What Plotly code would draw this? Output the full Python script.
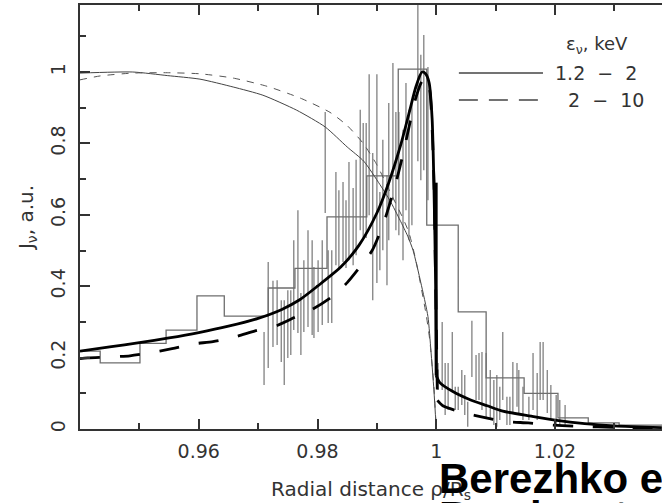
import plotly.graph_objects as go

# histogram of the data (bin edges, bin values)
hist_edges = [0.9400, 0.9434, 0.9501, 0.9545, 0.9597, 0.9643, 0.9717, 0.9762, 0.9816,
              0.9883, 0.9936, 0.9984, 1.0037, 1.0084, 1.0148, 1.0205, 1.0256, 1.0308, 1.0400]
hist_vals = [0.218, 0.185, 0.240, 0.277, 0.373, 0.316, 0.395, 0.450, 0.594,
             0.709, 1.008, 0.571, 0.328, 0.143, 0.100, 0.031, 0.017, 0.011]

# error bars of individual points: position, lower end, upper end
err_x = [0.9710, 0.9717, 0.9725, 0.9732, 0.9739, 0.9744, 0.9750, 0.9755, 0.9760, 0.9767,
         0.9772, 0.9777, 0.9784, 0.9791, 0.9794, 0.9801, 0.9808, 0.9813, 0.9818, 0.9824,
         0.9831, 0.9836, 0.9843, 0.9848, 0.9853, 0.9860, 0.9865, 0.9872, 0.9877, 0.9882,
         0.9887, 0.9893, 0.9900, 0.9905, 0.9910, 0.9917, 0.9920, 0.9927, 0.9932, 0.9937,
         0.9944, 0.9949, 0.9954, 0.9959, 0.9969, 0.9974, 0.9979, 0.9986,
         1.0003, 1.0010, 1.0015, 1.0020, 1.0027, 1.0032, 1.0037, 1.0043, 1.0048, 1.0053,
         1.0060, 1.0067, 1.0072, 1.0077, 1.0084, 1.0091, 1.0097, 1.0102, 1.0107, 1.0112,
         1.0119, 1.0124, 1.0129, 1.0136, 1.0139, 1.0146, 1.0156, 1.0163, 1.0170, 1.0175,
         1.0180, 1.0187, 1.0193, 1.0202, 1.0208, 1.0217]
err_lo = [0.123, 0.171, 0.230, 0.235, 0.188, 0.123, 0.199, 0.207, 0.277, 0.269,
          0.207, 0.272, 0.286, 0.263, 0.255, 0.272, 0.291, 0.605, 0.297, 0.297,
          0.459, 0.451, 0.468, 0.451, 0.473, 0.459, 0.487, 0.557, 0.529, 0.535,
          0.599, 0.361, 0.409, 0.445, 0.501, 0.403, 0.529, 0.641, 0.557, 0.543,
          0.473, 0.613, 0.529, 0.571, 0.750, 0.697, 0.725, 0.641,
          0.109, 0.109, 0.039, 0.053, 0.104, 0.053, 0.053, 0.067, 0.039, 0.006,
          0.146, 0.081, 0.081, 0.053, 0.031, 0.025, 0.011, 0.006, 0.025, 0.081,
          0.011, 0.011, 0.045, 0.062, 0.039, 0.025, 0.025, 0.053, 0.025, 0.081,
          0.081, 0.045, 0.025, 0.011, 0.011, 0.006]
err_hi = [0.272, 0.468, 0.415, 0.417, 0.361, 0.361, 0.389, 0.389, 0.529, 0.613,
          0.381, 0.473, 0.557, 0.529, 0.454, 0.473, 0.529, 0.888, 0.501, 0.501,
          0.720, 0.669, 0.692, 0.641, 0.748, 0.675, 0.754, 0.894, 0.857, 0.857,
          0.994, 0.773, 0.994, 0.664, 0.810, 0.711, 0.913, 1.025, 0.888, 0.888,
          0.838, 0.969, 0.894, 0.922, 1.250, 1.048, 1.104, 1.014,
          0.185, 0.300, 0.185, 0.185, 0.272, 0.118, 0.118, 0.165, 0.151, 0.076,
          0.303, 0.207, 0.213, 0.216, 0.213, 0.165, 0.137, 0.151, 0.118, 0.272,
          0.090, 0.090, 0.188, 0.185, 0.165, 0.118, 0.090, 0.213, 0.157, 0.244,
          0.244, 0.165, 0.123, 0.095, 0.081, 0.067]

# model profile, 1.2-2 keV (thick solid): rise, then drop at the shock
soft_x = [0.9400, 0.9450, 0.9500, 0.9550, 0.9600, 0.9650, 0.9700, 0.9740, 0.9770, 0.9800,
          0.9840, 0.9870, 0.9900, 0.9920, 0.9940, 0.9955, 0.9966, 0.9976, 0.9982, 0.9988,
          0.9993, 0.9996, 0.9999, 1.0000]
soft_y = [0.218, 0.230, 0.242, 0.255, 0.270, 0.288, 0.310, 0.335, 0.362, 0.400,
          0.455, 0.515, 0.605, 0.690, 0.795, 0.890, 0.960, 1.000, 0.995, 0.970,
          0.870, 0.690, 0.400, 0.150]
soft_out_x = [1.0000, 1.0006, 1.0028, 1.0057, 1.0086, 1.0112, 1.0160, 1.0200, 1.0250, 1.0300, 1.0380]
soft_out_y = [0.150, 0.130, 0.105, 0.082, 0.065, 0.050, 0.036, 0.025, 0.015, 0.009, 0.004]

# model profile, 2-10 keV (thick dashed)
hard_x = [0.9400, 0.9413, 0.9484, 0.9513, 0.9555, 0.9590, 0.9624, 0.9661, 0.9695, 0.9732,
          0.9762, 0.9792, 0.9824, 0.9850, 0.9872, 0.9892, 0.9912, 0.9932, 0.9944, 0.9956,
          0.9966, 0.9976, 0.9983, 0.9989, 0.9996, 0.9999, 1.0002]
hard_y = [0.197, 0.199, 0.205, 0.212, 0.225, 0.238, 0.245, 0.258, 0.275, 0.290,
          0.313, 0.336, 0.370, 0.410, 0.455, 0.500, 0.580, 0.690, 0.770, 0.860,
          0.930, 0.975, 0.985, 0.950, 0.700, 0.400, 0.080]
hard_out_x = [1.0002, 1.0011, 1.0047, 1.0082, 1.0117, 1.0155, 1.0188, 1.0234, 1.0309, 1.0380]
hard_out_y = [0.080, 0.065, 0.045, 0.032, 0.021, 0.017, 0.012, 0.008, 0.004, 0.002]

# thin curves (the other pair of profiles)
thin_x = [0.9400, 0.9489, 0.9547, 0.9602, 0.9658, 0.9708, 0.9765, 0.9813, 0.9850, 0.9878,
          0.9905, 0.9922, 0.9939, 0.9952, 0.9961, 0.9974, 0.9986, 0.9991, 0.9996, 1.0000]
thin_y = [0.997, 1.000, 0.990, 0.980, 0.958, 0.935, 0.893, 0.846, 0.790, 0.750,
          0.685, 0.640, 0.585, 0.540, 0.500, 0.410, 0.315, 0.220, 0.110, 0.000]
thind_x = [0.9400, 0.9434, 0.9489, 0.9547, 0.9602, 0.9658, 0.9715, 0.9771, 0.9821, 0.9850,
           0.9877, 0.9900, 0.9922, 0.9944, 0.9954, 0.9966, 0.9983, 0.9989, 0.9996, 1.0000]
thind_y = [0.978, 0.989, 0.997, 0.998, 0.995, 0.983, 0.960, 0.927, 0.887, 0.850,
           0.800, 0.740, 0.665, 0.590, 0.550, 0.470, 0.320, 0.250, 0.120, 0.000]

AX = "#333333"
FONT = "DejaVu Sans"

fig = go.Figure()

# error bars as separate vertical segments
ex, ey = [], []
for x, lo, hi in zip(err_x, err_lo, err_hi):
    ex += [x, x, None]
    ey += [lo, hi, None]
fig.add_trace(go.Scatter(x=ex, y=ey, mode="lines", line=dict(color="#8a8a8a", width=1.4),
                         hoverinfo="skip", showlegend=False))

fig.add_trace(go.Scatter(x=hist_edges, y=hist_vals + [hist_vals[-1]], mode="lines",
                         line=dict(color="#6e6e6e", width=1.3, shape="hv"), showlegend=False))

fig.add_trace(go.Scatter(x=thin_x, y=thin_y, mode="lines",
                         line=dict(color="#444444", width=1, shape="spline", smoothing=0.6),
                         showlegend=False))
fig.add_trace(go.Scatter(x=thind_x, y=thind_y, mode="lines",
                         line=dict(color="#555555", width=1, dash="7px,7px", shape="spline",
                                   smoothing=0.6), showlegend=False))

for xs, ys in [(hard_x, hard_y), (hard_out_x, hard_out_y)]:
    fig.add_trace(go.Scatter(x=xs, y=ys, mode="lines",
                             line=dict(color="black", width=2.8, dash="20px,20px",
                                       shape="spline", smoothing=0.7), showlegend=False))
for xs, ys in [(soft_x, soft_y), (soft_out_x, soft_out_y)]:
    fig.add_trace(go.Scatter(x=xs, y=ys, mode="lines",
                             line=dict(color="black", width=2.8, shape="spline", smoothing=0.7),
                             showlegend=False))
# vertical drop of the 1.2-2 keV profile at the shock
fig.add_trace(go.Scatter(x=[soft_x[-1], soft_out_x[0]], y=[soft_y[-3], soft_out_y[0]], mode="lines",
                         line=dict(color="black", width=2.8), showlegend=False))

# legend drawn by hand
fig.add_shape(type="line", xref="paper", yref="paper", x0=0.651, x1=0.7955, y0=0.8396, y1=0.8396,
              line=dict(color="#444444", width=1.3))
fig.add_shape(type="line", xref="paper", yref="paper", x0=0.651, x1=0.7955, y0=0.776, y1=0.776,
              line=dict(color="#444444", width=1.3, dash="19px,11px"))
fig.add_annotation(text="ε<sub>ν</sub>, keV", xref="paper", yref="paper", x=0.8316, y=0.9057,
                   xanchor="left", yanchor="middle", showarrow=False,
                   font=dict(family=FONT, size=18, color=AX))
fig.add_annotation(text="1.2  −  2", xref="paper", yref="paper", x=0.8127, y=0.8396,
                   xanchor="left", yanchor="middle", showarrow=False,
                   font=dict(family=FONT, size=19, color=AX))
fig.add_annotation(text="2  −  10", xref="paper", yref="paper", x=0.835, y=0.776,
                   xanchor="left", yanchor="middle", showarrow=False,
                   font=dict(family=FONT, size=19, color=AX))

# slide caption overlapping the figure (second line runs off the bottom)
fig.add_annotation(text="<b>Berezhko et al.</b>", xref="paper", yref="paper", x=0.6134, y=-0.116,
                   xanchor="left", yanchor="middle", showarrow=False,
                   font=dict(family="Liberation Sans", size=42, color="black"))
fig.add_annotation(text="<b>Bamba et al.</b>", xref="paper", yref="paper", x=0.6134, y=-0.207,
                   xanchor="left", yanchor="middle", showarrow=False,
                   font=dict(family="Liberation Sans", size=42, color="black"))

fig.update_xaxes(range=[0.94, 1.03802], tickvals=[0.96, 0.98, 1.0, 1.02],
                 ticktext=["0.96", "0.98", "1", "1.02"], automargin=False,
                 ticks="inside", ticklen=10, tickwidth=1.5, tickcolor=AX, ticklabelstandoff=4,
                 minor=dict(tickvals=[0.95, 0.97, 0.99, 1.01, 1.03], ticks="inside",
                            ticklen=6, tickwidth=1.5, tickcolor=AX),
                 showline=True, linecolor=AX, linewidth=1.5, mirror="ticks",
                 showgrid=False, zeroline=False,
                 tickfont=dict(family=FONT, size=19, color=AX),
                 title=dict(text="Radial distance ρ/R<sub>s</sub>", standoff=22,
                            font=dict(family=FONT, size=20, color=AX)))
fig.update_yaxes(range=[0, 1.1877], tickvals=[0, 0.2, 0.4, 0.6, 0.8, 1.0],
                 ticktext=["0", "0.2", "0.4", "0.6", "0.8", "1"], tickangle=-90,
                 automargin=False, ticklabelstandoff=6,
                 ticks="inside", ticklen=10, tickwidth=1.5, tickcolor=AX,
                 minor=dict(tickvals=[0.1, 0.3, 0.5, 0.7, 0.9, 1.1], ticks="inside",
                            ticklen=6, tickwidth=1.5, tickcolor=AX),
                 showline=True, linecolor=AX, linewidth=1.5, mirror=False,
                 showgrid=False, zeroline=False,
                 tickfont=dict(family=FONT, size=19, color=AX),
                 title=dict(text="J<sub>ν</sub>, a.u.", standoff=8,
                            font=dict(family=FONT, size=20, color=AX)))

fig.update_layout(width=662, height=503, margin=dict(l=80, r=0, t=5, b=74),
                  paper_bgcolor="white", plot_bgcolor="white", showlegend=False)

fig.write_html("out.html", config={"displayModeBar": False},
               post_script="document.body.style.margin='0';")
